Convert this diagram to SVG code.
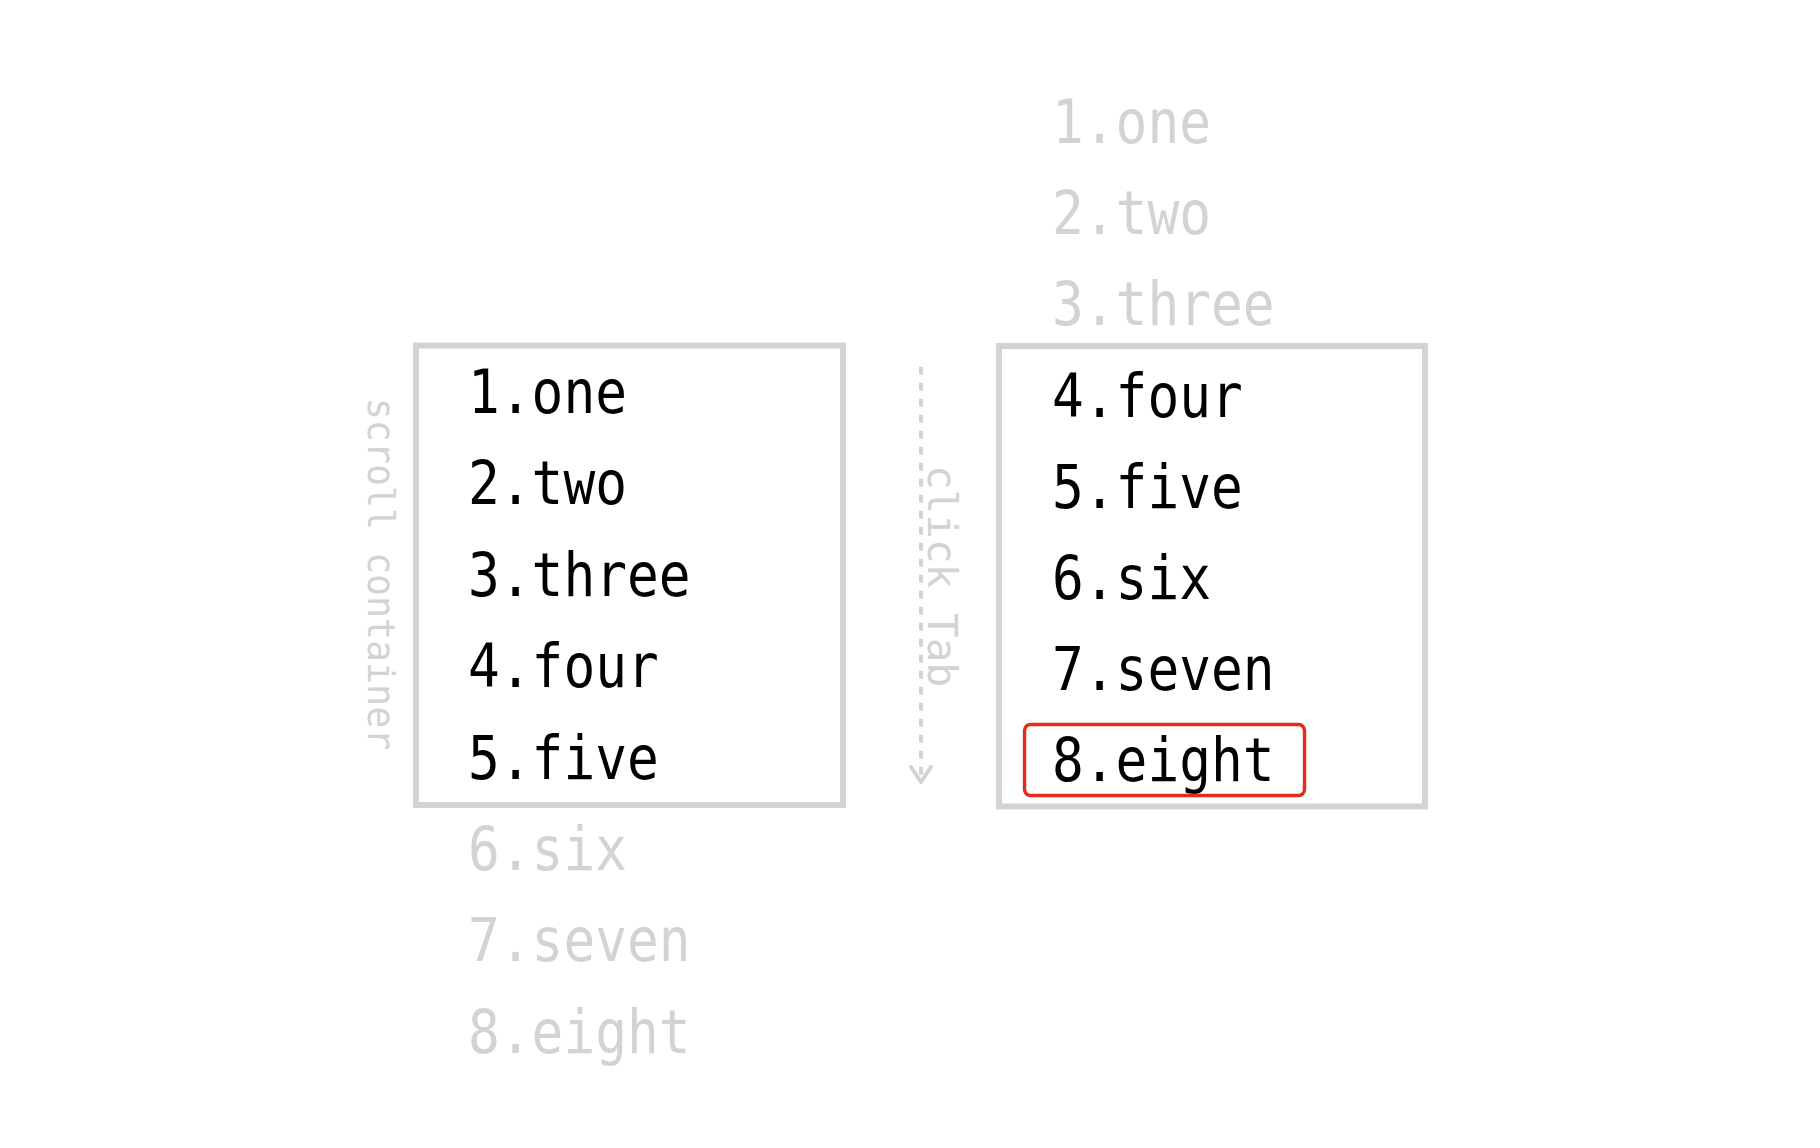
<svg xmlns="http://www.w3.org/2000/svg" width="1820" height="1148" viewBox="0 0 1820 1148">
<style>
.item{font-family:"DejaVu Sans Mono","Liberation Mono",monospace;font-size:61.3px;}
.on{fill:#000000;}
.off{fill:#d3d3d3;}
.frame{fill:none;stroke:#d3d3d3;stroke-width:6;}
.label{font-family:"DejaVu Sans Mono","Liberation Mono",monospace;fill:#d3d3d3;}
.flow{fill:none;stroke:#d3d3d3;stroke-width:4;stroke-dasharray:8 8;}
</style>
<defs>
<marker id="chev" markerUnits="userSpaceOnUse" viewBox="-18 -13 22 26" markerWidth="22" markerHeight="26" refX="0" refY="0" orient="auto">
<path d="M-15,-10 L0,0 L-15,10" fill="none" stroke="#d3d3d3" stroke-width="4" stroke-linecap="round" stroke-linejoin="round"/>
</marker>
</defs>
<rect width="1820" height="1148" fill="#ffffff"/>
<g id="before">
<rect class="frame" x="416" y="345.5" width="427" height="459.5"/>
<text class="item on" x="468" y="413" textLength="159" lengthAdjust="spacingAndGlyphs">1.one</text>
<text class="item on" x="468" y="504.4" textLength="159" lengthAdjust="spacingAndGlyphs">2.two</text>
<text class="item on" x="468" y="595.8" textLength="222.6" lengthAdjust="spacingAndGlyphs">3.three</text>
<text class="item on" x="468" y="687.2" textLength="190.8" lengthAdjust="spacingAndGlyphs">4.four</text>
<text class="item on" x="468" y="778.6" textLength="190.8" lengthAdjust="spacingAndGlyphs">5.five</text>
<text class="item off" x="468" y="870" textLength="159" lengthAdjust="spacingAndGlyphs">6.six</text>
<text class="item off" x="468" y="961.4" textLength="222.6" lengthAdjust="spacingAndGlyphs">7.seven</text>
<text class="item off" x="468" y="1052.8" textLength="222.6" lengthAdjust="spacingAndGlyphs">8.eight</text>
<text class="label" font-size="36.6" transform="translate(368,574) rotate(90)" text-anchor="middle">scroll container</text>
</g>
<g id="after">
<rect class="frame" x="999" y="346" width="426" height="460.5"/>
<text class="item off" x="1052" y="143" textLength="159" lengthAdjust="spacingAndGlyphs">1.one</text>
<text class="item off" x="1052" y="234.2" textLength="159" lengthAdjust="spacingAndGlyphs">2.two</text>
<text class="item off" x="1052" y="325.4" textLength="222.6" lengthAdjust="spacingAndGlyphs">3.three</text>
<text class="item on" x="1052" y="416.6" textLength="190.8" lengthAdjust="spacingAndGlyphs">4.four</text>
<text class="item on" x="1052" y="507.8" textLength="190.8" lengthAdjust="spacingAndGlyphs">5.five</text>
<text class="item on" x="1052" y="599" textLength="159" lengthAdjust="spacingAndGlyphs">6.six</text>
<text class="item on" x="1052" y="690.2" textLength="222.6" lengthAdjust="spacingAndGlyphs">7.seven</text>
<text class="item on" x="1052" y="781.4" textLength="222.6" lengthAdjust="spacingAndGlyphs">8.eight</text>
</g>
<g id="focus">
<rect x="1024.5" y="724.5" width="280" height="71" rx="6" fill="none" stroke="#e52b1c" stroke-width="3.4"/>
</g>
<g id="connectors">
<line class="flow" x1="921" y1="366.7" x2="921" y2="782" marker-end="url(#chev)"/>
<text class="label" font-size="41" transform="translate(928,576) rotate(90)" text-anchor="middle">click Tab</text>
</g>
</svg>
